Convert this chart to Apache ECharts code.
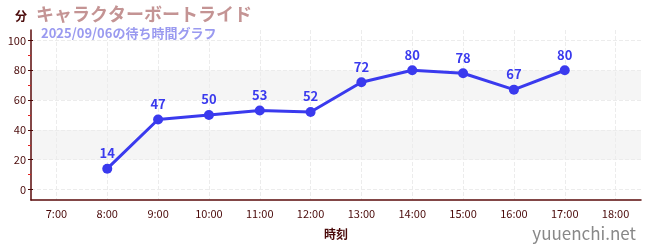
<!DOCTYPE html>
<html><head><meta charset="utf-8">
<script src="https://cdn.jsdelivr.net/npm/echarts@6/dist/echarts.min.js"></script>
<style>html,body{margin:0;padding:0;background:#fff}#c{width:650px;height:250px}</style>
</head><body><div id="c"></div>
<script>
const categories = ['7:00','8:00','9:00','10:00','11:00','12:00','13:00','14:00','15:00','16:00','17:00','18:00'];
const waitValues = [null,14,47,50,53,52,72,80,78,67,80,null];
const yTicks = [0,20,40,60,80,100];
const yMinorTicks = [10,30,50,70,90];
const titleText = 'キャラクターボートライド';
const subtitleText = '2025/09/06の待ち時間グラフ';

const chart = echarts.init(document.getElementById('c'), null, {renderer:'canvas'});
const dark = '#4a0a0a';
const font = '"Noto Sans CJK JP","Noto Sans",sans-serif';
const gridW = 650 - 31 - 9;
chart.setOption({
  animation:false,
  textStyle:{fontFamily:font},
  title:[
    {text:titleText,left:31,top:0,textStyle:{color:'#c49494',fontSize:18,fontWeight:'bold',fontFamily:font}},
    {text:subtitleText,left:36,top:22,textStyle:{color:'#9a9af0',fontSize:13,fontWeight:'bold',fontFamily:font}},
    {text:'yuuenchi.net',right:9,bottom:3,textStyle:{color:'#888',fontSize:17,fontWeight:'normal',fontFamily:font}}
  ],
  grid:{left:31,right:9,top:30,bottom:50},
  xAxis:{
    type:'category',data:categories,boundaryGap:true,
    name:'時刻',nameLocation:'middle',nameGap:28,
    nameTextStyle:{color:dark,fontSize:12,fontWeight:'bold'},
    axisLine:{onZero:false,lineStyle:{color:'#5a0a0a',width:1.5}},
    axisTick:{alignWithLabel:true,length:4,lineStyle:{color:dark}},
    axisLabel:{color:dark,fontSize:11,margin:8},
    splitLine:{show:true,alignWithLabel:true,lineStyle:{color:'#ececec',type:'dashed'}}
  },
  yAxis:[{
    type:'value',min:-7,max:107,position:'left',
    name:'分',nameLocation:'end',nameGap:8,
    nameTextStyle:{color:dark,fontSize:12,fontWeight:'bold',align:'right',padding:[0,4,0,0]},
    axisLine:{show:true,onZero:false,lineStyle:{color:'#5a0a0a',width:1.5}},
    axisTick:{show:true,length:3,customValues:yTicks,lineStyle:{color:dark}},
    axisLabel:{color:dark,fontSize:11,margin:5,customValues:yTicks},
    splitLine:{show:true,lineStyle:{color:'#ececec',type:'dashed'}},
    splitArea:{show:true,areaStyle:{color:['#ffffff','#f5f5f5']}}
  },{
    type:'value',min:-7,max:107,position:'right',offset:-gridW,
    axisLine:{show:false,onZero:false},
    axisTick:{show:true,length:2,customValues:yTicks,lineStyle:{color:dark}},
    axisLabel:{show:false,customValues:yTicks},
    splitLine:{show:false}
  },{
    type:'value',min:-7,max:107,position:'right',offset:-gridW,
    axisLine:{show:false,onZero:false},
    axisTick:{show:true,inside:true,length:3,customValues:yMinorTicks,lineStyle:{color:'#e02020'}},
    axisLabel:{show:false,customValues:yMinorTicks},
    splitLine:{show:false}
  }],
  series:[{
    type:'line',data:waitValues,yAxisIndex:0,
    symbol:'circle',symbolSize:10,
    itemStyle:{color:'#3a3aee'},
    lineStyle:{color:'#3a3aee',width:3},
    label:{show:true,position:'top',color:'#3a3aee',fontSize:13,fontWeight:'bold',distance:4}
  }]
});
</script></body></html>
